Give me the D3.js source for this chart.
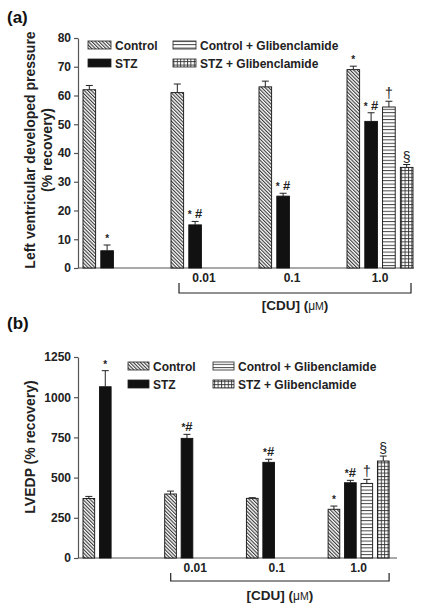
<!DOCTYPE html>
<html>
<head>
<meta charset="utf-8">
<script src="https://cdn.jsdelivr.net/npm/d3@7/dist/d3.min.js"></script>
<style>
  html, body { margin: 0; padding: 0; background: #fff; }
  svg { display: block; font-family: "Liberation Sans", Arial, sans-serif; }
</style>
</head>
<body>
<svg id="chart" width="428" height="611"></svg>
<script>
// ---------- data ----------
const groups = ["base", "0.01", "0.1", "1.0"];
const groupLabels = ["", "0.01", "0.1", "1.0"];
const series = ["Control", "STZ", "Control + Glibenclamide", "STZ + Glibenclamide"];

// Panel (a): Left ventricular developed pressure (% recovery)
const lvdpControl     = [62, 61, 63, 69];
const lvdpControlErr  = [1.5, 3, 2, 1.2];
const lvdpSTZ         = [6, 15, 25, 51];
const lvdpSTZErr      = [2, 1.2, 1, 3];
const lvdpCtrlGlib    = [null, null, null, 56];
const lvdpCtrlGlibErr = [null, null, null, 2];
const lvdpSTZGlib     = [null, null, null, 35];
const lvdpSTZGlibErr  = [null, null, null, 1];
const lvdpMarks = [["", "*", "", ""], ["", "* #", "", ""], ["", "* #", "", ""], ["*", "* #", "\u2020", "\u00a7"]];
const lvdpTicks = [0, 10, 20, 30, 40, 50, 60, 70, 80];

// Panel (b): LVEDP (% recovery)
const lvedpControl     = [370, 398, 371, 303];
const lvedpControlErr  = [13, 18, 4, 20];
const lvedpSTZ         = [1065, 744, 595, 468];
const lvedpSTZErr      = [100, 25, 19, 15];
const lvedpCtrlGlib    = [null, null, null, 464];
const lvedpCtrlGlibErr = [null, null, null, 25];
const lvedpSTZGlib     = [null, null, null, 603];
const lvedpSTZGlibErr  = [null, null, null, 31];
const lvedpMarks = [["", "*", "", ""], ["", "*#", "", ""], ["", "*#", "", ""], ["*", "*#", "\u2020", "\u00a7"]];
const lvedpTicks = [0, 250, 500, 750, 1000, 1250];

// ---------- drawing ----------
const svg = d3.select("#chart");
const defs = svg.append("defs");

const pDiag = defs.append("pattern").attr("id", "pDiag").attr("patternUnits", "userSpaceOnUse")
  .attr("width", 2.5).attr("height", 2.5).attr("patternTransform", "rotate(-45)");
pDiag.append("rect").attr("width", 2.5).attr("height", 2.5).attr("fill", "#fff");
pDiag.append("line").attr("x1", 0.6).attr("y1", 0).attr("x2", 0.6).attr("y2", 2.5)
  .attr("stroke", "#222").attr("stroke-width", 1);

const pHoriz = defs.append("pattern").attr("id", "pHoriz").attr("patternUnits", "userSpaceOnUse")
  .attr("width", 4).attr("height", 3.4);
pHoriz.append("rect").attr("width", 4).attr("height", 3.4).attr("fill", "#fff");
pHoriz.append("line").attr("x1", 0).attr("y1", 0.5).attr("x2", 4).attr("y2", 0.5)
  .attr("stroke", "#333").attr("stroke-width", 0.9);

const pGrid = defs.append("pattern").attr("id", "pGrid").attr("patternUnits", "userSpaceOnUse")
  .attr("width", 3.4).attr("height", 3.4);
pGrid.append("rect").attr("width", 3.4).attr("height", 3.4).attr("fill", "#fff");
pGrid.append("line").attr("x1", 0).attr("y1", 0.5).attr("x2", 3.4).attr("y2", 0.5)
  .attr("stroke", "#333").attr("stroke-width", 0.9);
pGrid.append("line").attr("x1", 0.5).attr("y1", 0).attr("x2", 0.5).attr("y2", 3.4)
  .attr("stroke", "#333").attr("stroke-width", 0.9);

const fills = { "Control": "url(#pDiag)", "STZ": "#111", "Control + Glibenclamide": "url(#pHoriz)", "STZ + Glibenclamide": "url(#pGrid)" };

function drawPanel(cfg) {
  const g = svg.append("g");
  const y = d3.scaleLinear().domain(cfg.yDomain).range(cfg.yRange);
  const xg = d3.scaleBand().domain(groups).range(cfg.xRange).paddingInner(0).paddingOuter(0);
  const xs = d3.scaleBand().domain(series).range([0, cfg.innerWidth]).paddingInner(0.29).paddingOuter(0);

  g.append("text").attr("x", 7).attr("y", cfg.titleY).attr("font-size", 17).attr("font-weight", "bold")
    .attr("fill", "#111").text(cfg.title);

  const ax = g.append("g").attr("transform", `translate(${cfg.axisX},0)`)
    .call(d3.axisLeft(y).tickValues(cfg.ticks).tickFormat(d3.format("d")).tickSize(4).tickSizeOuter(0).tickPadding(3));
  ax.select(".domain").attr("stroke", "#555").attr("stroke-width", 1.2);
  ax.selectAll(".tick line").attr("stroke", "#555").attr("stroke-width", 1.2);
  ax.selectAll(".tick text").attr("font-size", 12).attr("font-weight", "bold").attr("fill", "#222")
    .attr("font-family", "Liberation Sans, Arial, sans-serif");

  g.append("line").attr("x1", cfg.axisX).attr("x2", cfg.baseEnd).attr("y1", y(0)).attr("y2", y(0))
    .attr("stroke", "#555").attr("stroke-width", 1.2);

  cfg.yLabel.forEach((t, i) => {
    g.append("text").attr("transform", `translate(${cfg.yLabelX[i]},${cfg.yLabelY}) rotate(-90)`)
      .attr("text-anchor", "middle").attr("font-size", 14).attr("font-weight", "bold").attr("fill", "#222").text(t);
  });

  const seriesData = cfg.values;
  series.forEach((s, si) => {
    groups.forEach((grp, gi) => {
      const v = seriesData[si][gi];
      if (v == null) return;
      const e = cfg.errors[si][gi];
      const x0 = xg(grp) + xs(s);
      const w = xs.bandwidth();
      const cx = x0 + w / 2;
      g.append("rect").attr("x", x0).attr("y", y(v)).attr("width", w).attr("height", y(0) - y(v))
        .attr("fill", fills[s]).attr("stroke", "#111").attr("stroke-width", 0.9);
      g.append("line").attr("x1", cx).attr("x2", cx).attr("y1", y(v)).attr("y2", y(v + e))
        .attr("stroke", "#222").attr("stroke-width", 1);
      g.append("line").attr("x1", cx - 3.5).attr("x2", cx + 3.5).attr("y1", y(v + e)).attr("y2", y(v + e))
        .attr("stroke", "#222").attr("stroke-width", 1);
      const m = cfg.marks[gi][si];
      if (m) {
        const ty = y(v + e) - 3;
        const txt = g.append("text").attr("x", cx).attr("y", ty).attr("text-anchor", "middle").attr("fill", "#222");
        if (m === "\u2020" || m === "\u00a7") {
          txt.attr("font-size", 14).attr("font-family", "Liberation Sans, Arial, sans-serif").attr("font-weight", "normal")
            .attr("fill", "#222").attr("stroke", "none").text(m);
        } else {
          m.split("").forEach(p => {
            if (p === "*") txt.append("tspan").attr("font-size", 10).attr("font-weight", "bold").text("*");
            else if (p === "#") txt.append("tspan").attr("font-size", 13).attr("font-weight", "bold").text("#");
            else txt.append("tspan").attr("font-size", 12).text("\u00a0");
          });
        }
      }
    });
  });

  groups.forEach((grp, gi) => {
    if (!groupLabels[gi]) return;
    g.append("text").attr("x", xg(grp) + cfg.innerWidth / 2).attr("y", cfg.tickLabelY)
      .attr("text-anchor", "middle").attr("font-size", 12).attr("font-weight", "bold").attr("fill", "#222")
      .text(groupLabels[gi]);
  });

  const bl = xg("0.01") + cfg.bracketInset[0];
  const br = xg("1.0") + cfg.bracketInset[1];
  g.append("path").attr("d", `M${bl},${cfg.bracketTop}V${cfg.bracketBottom}H${br}V${cfg.bracketTop}`)
    .attr("fill", "none").attr("stroke", "#222").attr("stroke-width", 1.2);

  const xl = g.append("text").attr("x", (bl + br) / 2).attr("y", cfg.xLabelY).attr("text-anchor", "middle")
    .attr("font-size", 13.5).attr("font-weight", "bold").attr("fill", "#222");
  xl.append("tspan").text("[CDU] (");
  xl.append("tspan").attr("font-weight", "normal").attr("font-size", 12).text("\u03bc");
  xl.append("tspan").attr("font-weight", "normal").attr("font-size", 10.5).text("M");
  xl.append("tspan").text(")");

  cfg.legend.forEach((L, li) => {
    const s = series[li];
    g.append("rect").attr("x", L[0]).attr("y", L[1] - 4).attr("width", cfg.swatchW).attr("height", 8)
      .attr("fill", fills[s]).attr("stroke", "#222").attr("stroke-width", 0.8);
    g.append("text").attr("x", L[0] + cfg.swatchW + 4).attr("y", L[1] + 4.5).attr("font-size", 12)
      .attr("font-weight", "bold").attr("fill", "#222").text(s);
  });
}

drawPanel({
  title: "(a)", titleY: 23,
  yDomain: [0, 80], yRange: [268, 38], ticks: lvdpTicks,
  xRange: [83, 83 + 4 * 88], innerWidth: 66,
  axisX: 78, baseEnd: 414,
  yLabel: ["Left ventricular developed pressure", "(% recovery)"], yLabelX: [35, 52], yLabelY: 150,
  values: [lvdpControl, lvdpSTZ, lvdpCtrlGlib, lvdpSTZGlib],
  errors: [lvdpControlErr, lvdpSTZErr, lvdpCtrlGlibErr, lvdpSTZGlibErr],
  marks: lvdpMarks,
  tickLabelY: 282,
  bracketInset: [8, 64], bracketTop: 283, bracketBottom: 293,
  xLabelY: 310,
  swatchW: 23,
  legend: [[88, 45], [88, 63], [173, 45], [173, 63]]
});

drawPanel({
  title: "(b)", titleY: 329,
  yDomain: [0, 1250], yRange: [558, 357], ticks: lvedpTicks,
  xRange: [83, 83 + 4 * 81.7], innerWidth: 61,
  axisX: 78, baseEnd: 397,
  yLabel: ["LVEDP (% recovery)"], yLabelX: [35], yLabelY: 447,
  values: [lvedpControl, lvedpSTZ, lvedpCtrlGlib, lvedpSTZGlib],
  errors: [lvedpControlErr, lvedpSTZErr, lvedpCtrlGlibErr, lvedpSTZGlibErr],
  marks: lvedpMarks,
  tickLabelY: 572,
  bracketInset: [6, 61], bracketTop: 573, bracketBottom: 581,
  xLabelY: 600,
  swatchW: 21,
  legend: [[128, 366], [128, 384], [213, 366], [213, 384]]
});
</script>
</body>
</html>
